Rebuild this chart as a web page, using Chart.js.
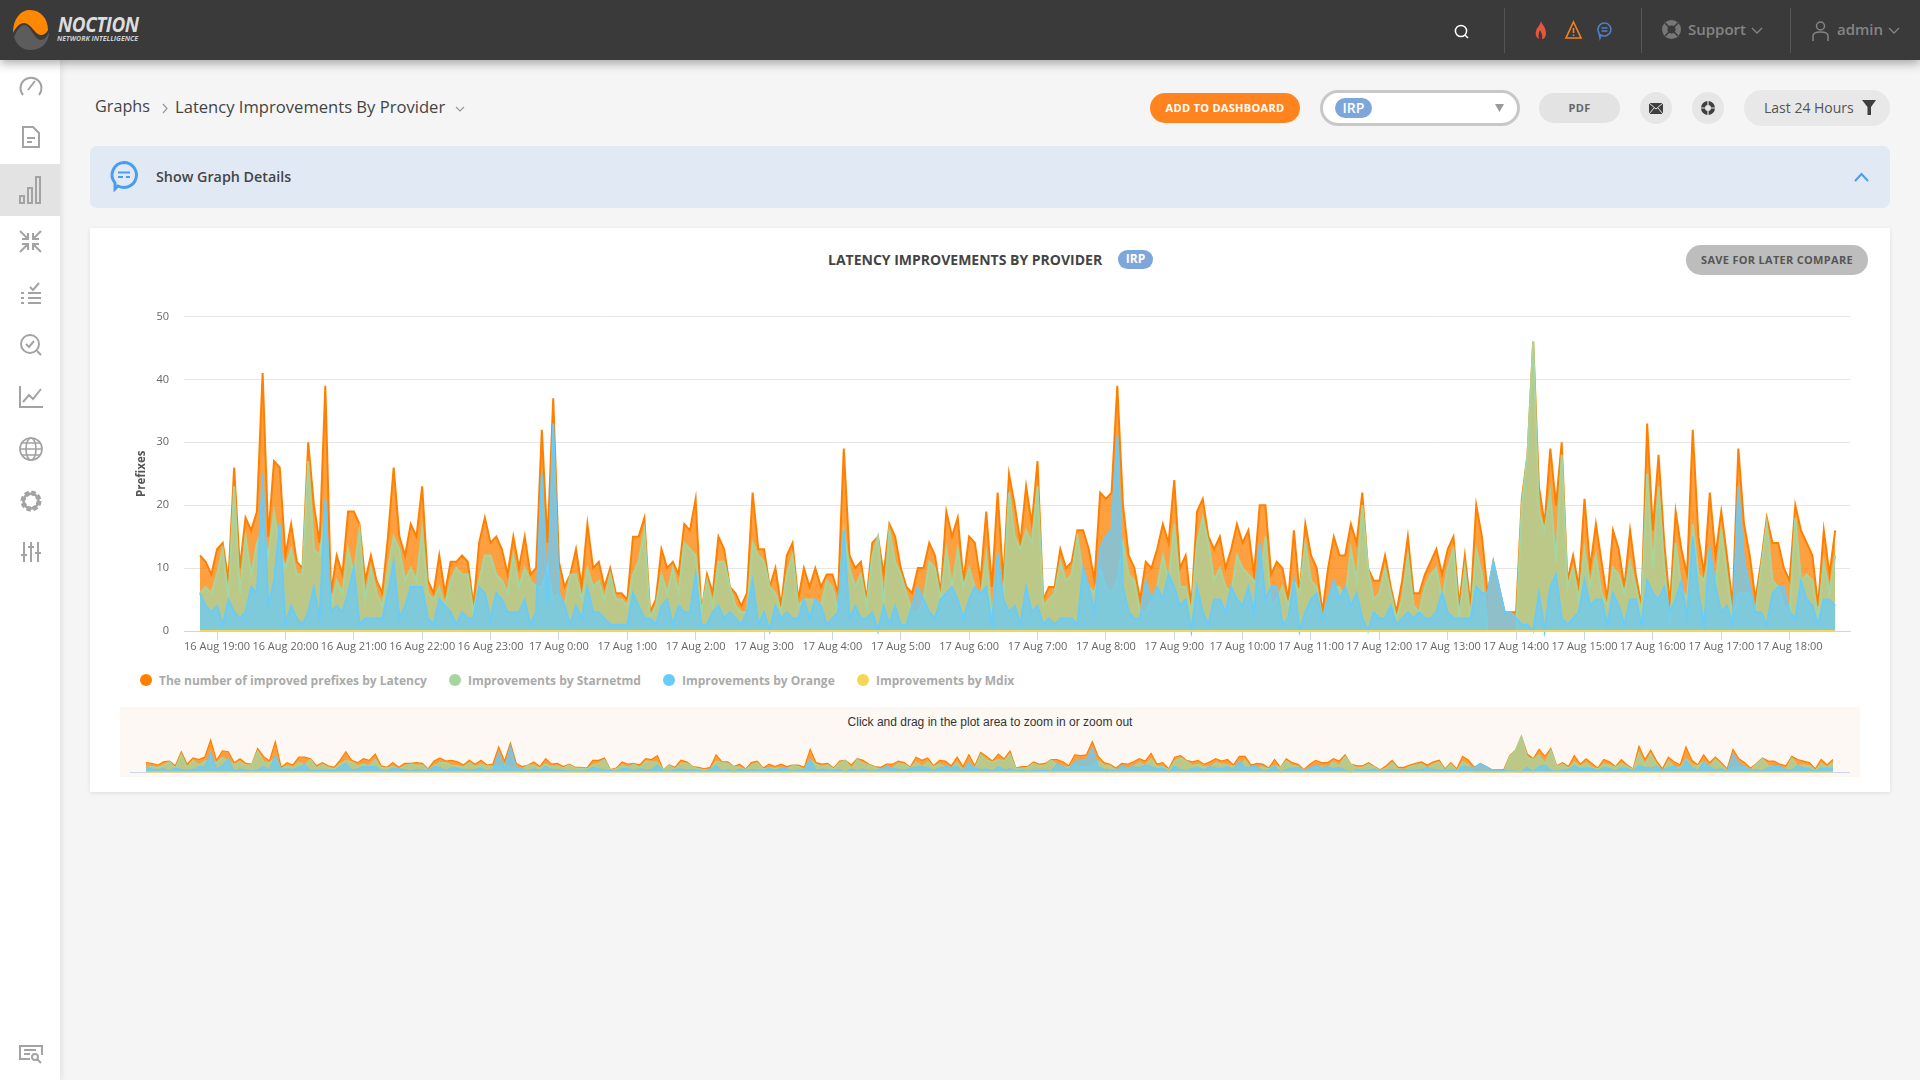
<!DOCTYPE html>
<html>
<head>
<meta charset="utf-8">
<title>Latency Improvements By Provider</title>
<script src="https://cdn.jsdelivr.net/npm/chart.js@4"></script>
<style>
  html, body { margin: 0; padding: 0; width: 1920px; height: 1080px; overflow: hidden; background: #f5f5f5; font-family: "Open Sans", sans-serif; color: #444; }
  .box { position: absolute; box-sizing: border-box; }
  .txt { position: absolute; white-space: nowrap; transform: translateY(-50%); }
  .pill { position: absolute; box-sizing: border-box; display: flex; align-items: center; justify-content: center; white-space: nowrap; padding-bottom: 2px; }
  svg { position: absolute; overflow: visible; fill: none; }
  #topbar { left: 0; top: 0; width: 1920px; height: 60px; background: #3a3a3a; box-shadow: 0 3px 10px rgba(0,0,0,.35); z-index: 3; }
  #sidebar { left: 0; top: 60px; width: 60px; height: 1020px; background: #fff; box-shadow: 2px 0 6px rgba(0,0,0,.08); z-index: 2; }
  .sep { position: absolute; top: 8px; width: 1px; height: 45px; background: #555; }
  .top-txt { font-size: 15px; font-weight: 600; color: #858585; }
  .leg-dot { position: absolute; width: 12px; height: 12px; border-radius: 50%; top: 674px; }
  .leg-txt { position: absolute; top: 680px; transform: translateY(-50%); font-size: 12px; font-weight: 700; color: #aaa; white-space: nowrap; }
</style>
</head>
<body>

<div class="box" id="topbar">
  <svg style="left:13px;top:10px" width="38" height="40" viewBox="0 0 38 40">
    <path d="M0 23 C0 8 8 0 17 0 C28 0 35 9 35 20 C33 24 30 25 28 25 C22 25 18 13 11 13 C7 13 3 17 0 23Z" fill="#ff8800"/>
    <path d="M1 27 C3 22 7 15 11 15 C18 15 21 30 28 30 C31 30 34 27 36 22 C36 33 28 40 17 40 C9 40 3 34 1 27Z" fill="#5c5c5c"/>
  </svg>
  <div class="txt" style="left:58px;top:24px;font-size:21px;font-weight:700;font-style:italic;color:#ddd;letter-spacing:-.5px;transform:translateY(-50%) scaleX(.9);transform-origin:left">NOCTION</div>
  <div class="txt" style="left:57px;top:38px;font-size:7px;font-weight:700;font-style:italic;color:#ccc">NETWORK INTELLIGENCE</div>

  <svg style="left:1454px;top:24px" width="15" height="15" stroke="#fff" stroke-width="1.5"><circle cx="7" cy="7" r="5.6"/><path d="M11 11 L14 14"/></svg>
  <div class="sep" style="left:1504px"></div>
  <svg style="left:1535px;top:21px" width="12" height="18"><path d="M6 0 C7 4 11 6 11 12 C11 16 9 18 7 18 C8 14 6 11 5 9 C4 12 3 14 4 18 C2 17 0 15 1 10 C2 6 5 5 6 0Z" fill="#e5563c"/></svg>
  <svg style="left:1565px;top:21px" width="17" height="18" stroke="#f58220" stroke-width="1.6"><path d="M8.5 1 L16 17 L1 17Z"/><path d="M8.5 7 L8.5 12 M8.5 13.5 L8.5 15"/></svg>
  <svg style="left:1597px;top:22px" width="15" height="17" stroke="#4f81c7" stroke-width="1.6"><path d="M7.5 1 A6.5 6.5 0 1 1 4 13 L3 16 L2 11 A6.5 6.5 0 0 1 7.5 1Z"/><path d="M4.5 6 H10.5 M4.5 9 H10.5"/></svg>
  <div class="sep" style="left:1641px"></div>
  <svg style="left:1662px;top:20px" width="19" height="19"><circle cx="9.5" cy="9.5" r="9.5" fill="#777"/><circle cx="9.5" cy="9.5" r="4" fill="#3a3a3a"/><path d="M3 3 L7 7 M16 3 L12 7 M3 16 L7 12 M16 16 L12 12" stroke="#3a3a3a" stroke-width="1.6"/></svg>
  <div class="txt top-txt" style="left:1688px;top:29px">Support</div>
  <svg style="left:1751px;top:27px" width="12" height="7" stroke="#858585" stroke-width="1.3"><path d="M1 1 L6 6 L11 1"/></svg>
  <div class="sep" style="left:1790px"></div>
  <svg style="left:1812px;top:21px" width="17" height="20" stroke="#858585" stroke-width="1.5"><circle cx="8.5" cy="5" r="4"/><path d="M1 20 V15 C1 12 4 11 8.5 11 C13 11 16 12 16 15 V20"/></svg>
  <div class="txt top-txt" style="left:1837px;top:29px">admin</div>
  <svg style="left:1888px;top:27px" width="12" height="7" stroke="#858585" stroke-width="1.3"><path d="M1 1 L6 6 L11 1"/></svg>
</div>

<div class="box" id="sidebar">
  <div class="box" style="left:0;top:104px;width:60px;height:52px;background:#e3e3e3"></div>
  <svg style="left:19px;top:15px" width="24" height="22" stroke="#a3a3a3" stroke-width="2"><path d="M4 20 A10.5 10.5 0 1 1 20 20"/><path d="M9 15 L16 6"/></svg>
  <svg style="left:22px;top:66px" width="18" height="22" stroke="#a3a3a3" stroke-width="2"><path d="M1 1 H11 L17 7 V21 H1Z M5 12 H13 M5 16 H10"/></svg>
  <svg style="left:19px;top:116px" width="23" height="28" stroke="#a3a3a3" stroke-width="2"><rect x="1" y="20" width="4" height="7"/><rect x="9" y="12" width="4" height="15"/><rect x="17" y="1" width="4" height="26"/></svg>
  <svg style="left:19px;top:170px" width="23" height="23" stroke="#a3a3a3" stroke-width="2"><path d="M1 1 L9 9 M9 3 V9 H3 M22 1 L14 9 M14 3 V9 H20 M1 22 L9 14 M9 20 V14 H3 M22 22 L14 14 M14 20 V14 H20"/></svg>
  <svg style="left:20px;top:222px" width="22" height="22" stroke="#a3a3a3" stroke-width="2"><path d="M10 5 L13 8 L19 1 M8 11 H21 M8 16 H21 M8 21 H21 M1 11 H4 M1 16 H4 M1 21 H4"/></svg>
  <svg style="left:19px;top:273px" width="23" height="23" stroke="#a3a3a3" stroke-width="2"><circle cx="11" cy="11" r="9"/><path d="M7 11 L10 14 L15 8 M18 18 L22 22"/></svg>
  <svg style="left:19px;top:325px" width="24" height="23" stroke="#a3a3a3" stroke-width="2"><path d="M1 1 V22 H24 M4 17 L10 10 L14 14 L22 4"/></svg>
  <svg style="left:19px;top:377px" width="24" height="24" stroke="#a3a3a3" stroke-width="1.7"><circle cx="12" cy="12" r="11"/><ellipse cx="12" cy="12" rx="5" ry="11"/><path d="M1 12 H23 M3 6 H21 M3 18 H21"/></svg>
  <svg style="left:19px;top:429px" width="24" height="24"><circle cx="12" cy="12" r="8" stroke="#a3a3a3" stroke-width="5" stroke-dasharray="4 2.3"/><circle cx="12" cy="12" r="7.5" stroke="#a3a3a3" stroke-width="2.5"/></svg>
  <svg style="left:20px;top:481px" width="22" height="22" stroke="#a3a3a3" stroke-width="2"><path d="M4 1 V21 M11 1 V21 M18 1 V21 M1 14 H7 M8 6 H14 M15 12 H21"/></svg>
  <svg style="left:19px;top:985px" width="24" height="19" stroke="#a3a3a3" stroke-width="2"><path d="M23 10 V1 H1 V14 H11 M5 5 H17 M5 9 H11"/><circle cx="16" cy="12" r="3"/><path d="M18 14 L22 18"/></svg>
</div>

<div class="txt" style="left:95px;top:106px;font-size:16.2px;font-weight:500">Graphs</div>
<svg style="left:162px;top:103px" width="6" height="10" stroke="#999" stroke-width="1.2"><path d="M1 1 L5 5.5 L1 10"/></svg>
<div class="txt" style="left:175px;top:106px;font-size:16.6px;font-weight:500">Latency Improvements By Provider</div>
<svg style="left:455px;top:106px" width="10" height="6" stroke="#999" stroke-width="1.2"><path d="M1 1 L5 5 L9 1"/></svg>

<div class="pill" style="left:1150px;top:93px;width:150px;height:30px;background:#ff8420;border-radius:15px;color:#fff;font-size:11px;font-weight:700;letter-spacing:.3px">ADD TO DASHBOARD</div>
<div class="box" style="left:1320px;top:90px;width:200px;height:36px;background:#fff;border:3px solid #c8c8c8;border-radius:18px"></div>
<div class="pill" style="left:1335px;top:98px;width:37px;height:20px;background:#7da7db;border-radius:10px;color:#fff;font-size:14px;font-weight:600">IRP</div>
<svg style="left:1495px;top:104px" width="9" height="8"><path d="M0 0 H9 L4.5 8Z" fill="#999"/></svg>
<div class="pill" style="left:1539px;top:93px;width:81px;height:30px;background:#e3e3e3;border-radius:15px;color:#666;font-size:11px;font-weight:700;letter-spacing:.3px">PDF</div>
<div class="box" style="left:1640px;top:92px;width:32px;height:32px;background:#e6e6e6;border-radius:50%"></div>
<svg style="left:1649px;top:103px" width="14" height="11"><rect width="14" height="11" fill="#3f3f3f"/><path d="M0 0 L7 6 L14 0 M0 11 L5 5 M14 11 L9 5" stroke="#e6e6e6" stroke-width="1"/></svg>
<div class="box" style="left:1692px;top:92px;width:32px;height:32px;background:#e6e6e6;border-radius:50%"></div>
<svg style="left:1701px;top:101px" width="14" height="14"><circle cx="7" cy="7" r="5" stroke="#3f3f3f" stroke-width="4"/><path d="M7 0 V14 M0 7 H14" stroke="#e6e6e6" stroke-width="1.2"/></svg>
<div class="box" style="left:1744px;top:90px;width:146px;height:36px;background:#e8e8e8;border-radius:18px"></div>
<div class="txt" style="left:1764px;top:107px;font-size:14px;color:#555">Last 24 Hours</div>
<svg style="left:1862px;top:100px" width="14" height="15"><path d="M0 0 H14 L9 7 V15 L5.5 15 V7Z" fill="#3f3f3f"/></svg>

<div class="box" style="left:90px;top:146px;width:1800px;height:62px;background:#e1eaf4;border-radius:7px"></div>
<svg style="left:110px;top:161px" width="28" height="30" stroke="#4a9cf0" stroke-width="3"><path d="M14 1.5 A12.5 12.5 0 1 1 8 25 L5 28 L5 22 A12.5 12.5 0 0 1 14 1.5Z"/><path d="M8 11.5 H20 M8 16 H13 M16 16 H20" stroke-width="2"/></svg>
<div class="txt" style="left:156px;top:176px;font-size:14.3px;font-weight:600;color:#444">Show Graph Details</div>
<svg style="left:1854px;top:172px" width="15" height="10" stroke="#4a9cf0" stroke-width="2"><path d="M1 9 L7.5 2 L14 9"/></svg>

<div class="box" style="left:90px;top:228px;width:1800px;height:564px;background:#fff;box-shadow:0 1px 4px rgba(0,0,0,.1)"></div>
<div class="txt" style="left:828px;top:259px;font-size:14px;font-weight:700;color:#444">LATENCY IMPROVEMENTS BY PROVIDER</div>
<div class="pill" style="left:1118px;top:250px;width:35px;height:19px;background:#7da7db;border-radius:10px;color:#fff;font-size:12px;font-weight:700">IRP</div>
<div class="pill" style="left:1686px;top:245px;width:182px;height:30px;background:#bdbdbd;border-radius:15px;color:#555;font-size:11px;font-weight:700;letter-spacing:.3px">SAVE FOR LATER COMPARE</div>

<div class="box" style="left:120px;top:300px;width:1750px;height:370px"><canvas id="graficoPrincipal"></canvas></div>
<div id="legenda"></div>

<div class="box" style="left:120px;top:707px;width:1740px;height:70px;background:#fef8f4"></div>
<div class="txt" style="left:990px;top:722px;transform:translate(-50%,-50%);font-family:'Liberation Sans',sans-serif;font-size:12px;color:#333">Click and drag in the plot area to zoom in or zoom out</div>
<div class="box" style="left:130px;top:730px;width:1720px;height:44px"><canvas id="graficoNavegador"></canvas></div>

<script>
// 288 samples, one every 5 minutes, starting 16 Aug 18:45
const latencia = [
  12,11,9,13,14,8,26,10,18,16,19,41, 15,27,26,12,17,11,10,30,20,14,39,6,
  12,9,19,19,17,8,12,8,6,15,26,15, 12,17,15,23,8,6,12,6,11,11,12,11,
  4,14,18,14,15,13,9,15,10,15,9,10, 32,14,37,11,7,9,13,7,17,10,11,7,
  10,6,6,5,15,15,18,3,5,13,10,11, 9,17,16,21,3,9,6,15,13,7,6,4,
  6,22,13,13,7,10,4,12,14,5,10,7, 10,7,9,9,6,29,12,10,11,5,14,15,
  9,17,15,10,7,6,10,10,14,12,6,19, 15,18,8,15,14,8,19,7,22,8,25,20,
  14,23,17,27,5,7,7,13,10,11,16,16, 13,8,22,21,22,39,20,12,10,5,11,10,
  13,17,14,24,10,12,4,19,21,15,13,15, 10,13,17,14,16,9,20,20,9,11,10,5,
  16,6,17,12,10,3,10,15,12,12,17,14, 22,10,8,8,12,7,3,8,15,6,6,9,
  11,13,9,13,15,4,12,4,20,15,6,11, 7,3,3,3,21,28,46,23,17,29,20,30,
  8,12,7,21,10,17,11,5,16,13,7,16, 9,4,33,16,28,14,4,19,13,9,32,15,
  9,22,12,19,12,4,29,17,12,5,11,18, 14,14,10,8,20,16,14,12,4,16,9,16
];
const starnetmd = [
  6,7,6,9,13,5,23,6,15,9,14,16, 12,19,13,10,13,9,9,27,13,12,19,4,
  8,6,13,9,16,5,10,6,4,10,15,13, 8,10,8,16,6,5,7,4,8,10,9,9,
  3,8,12,12,9,8,6,12,7,10,8,7, 7,10,5,6,4,9,9,5,10,7,8,5,
  9,5,5,4,9,11,16,2,4,9,6,10, 6,14,13,12,3,8,4,11,11,7,4,3,
  3,14,12,11,7,6,3,9,12,4,5,5, 5,4,8,7,3,16,10,7,9,4,12,15,
  4,16,11,9,6,3,3,5,11,10,5,13, 7,13,7,10,7,5,12,2,12,5,22,15,
  13,16,14,23,4,5,6,11,8,9,15,9, 7,6,10,7,6,8,14,9,8,3,3,5,
  7,12,8,17,7,7,3,14,18,14,8,10, 7,6,12,10,9,8,7,15,4,5,7,4,
  8,6,14,8,7,2,5,7,7,5,13,8, 20,10,5,6,10,6,2,5,12,4,3,7,
  9,10,5,10,13,2,10,2,13,9,0,0, 0,0,0,0,20,28,46,19,16,22,11,28,
  7,10,5,13,7,12,6,4,10,9,6,11, 7,3,25,10,23,10,1,14,7,5,17,9,
  8,13,7,16,9,2,6,6,6,3,10,17, 8,7,4,3,18,8,9,8,2,11,6,12
];
const orange = [
  6,4,3,4,1,5,3,2,3,7,6,25, 4,8,17,1,4,2,1,3,7,2,21,3,
  4,3,6,10,1,2,2,2,2,6,11,2, 4,7,7,7,2,1,5,4,3,1,3,2,
  2,7,6,2,6,5,3,3,3,5,1,3, 25,4,33,6,4,1,4,2,7,3,3,2,
  1,1,1,1,6,4,2,2,1,4,5,1, 4,3,3,9,1,1,3,4,2,3,2,1,
  3,8,1,3,0,4,2,3,2,2,5,2, 5,4,1,2,3,16,2,4,2,2,3,0,
  4,1,4,1,1,4,7,5,3,2,5,6, 7,5,2,5,7,6,7,1,12,5,3,4,
  1,7,3,4,1,2,1,2,2,2,1,10, 7,3,13,15,16,31,7,3,2,2,8,5,
  7,5,9,7,4,5,0,7,3,1,5,5, 3,7,5,4,7,3,14,5,7,7,1,2,
  8,0,3,5,6,2,5,8,5,7,4,6, 2,0,3,2,2,4,1,2,3,2,3,2,
  2,3,6,3,2,2,2,2,7,6,6,11, 7,3,3,2,1,1,0,6,0,7,9,2,
  1,2,3,8,4,5,5,1,6,4,1,5, 5,1,8,6,5,7,3,5,8,2,15,6,
  1,13,7,3,4,1,23,11,7,3,3,1, 6,7,7,3,2,8,5,4,1,5,5,4
];
const mdix = [
  0,0,0,0,0,0,0,0,0,0,0,0, 0,0,0,0,0,0,0,0,0,0,0,0,
  0,0,0,0,0,0,0,0,0,0,0,0, 0,0,0,0,0,0,0,0,0,0,0,0,
  0,0,0,0,0,0,0,0,0,0,0,0, 0,0,0,0,0,0,0,0,0,0,0,0,
  0,0,0,0,0,0,0,0,0,0,0,0, 0,0,0,0,0,0,0,0,0,0,0,0,
  0,0,0,0,0,0,0,0,0,0,0,0, 0,0,0,0,0,0,0,0,0,0,0,0,
  0,0,0,0,0,0,0,0,0,0,0,0, 0,0,0,0,0,0,0,0,0,0,0,0,
  0,0,0,0,0,0,0,0,0,0,0,0, 0,0,0,0,0,0,0,0,0,0,0,0,
  0,0,0,0,0,0,0,0,0,0,0,0, 0,0,0,0,0,0,0,0,0,0,0,0,
  0,0,0,0,0,0,0,0,0,0,0,0, 0,0,0,0,0,0,0,0,0,0,0,0,
  0,0,0,0,0,0,0,0,0,0,0,0, 0,0,0,0,0,0,0,0,0,0,0,0,
  0,0,0,0,0,0,0,0,0,0,0,0, 0,0,0,0,0,0,0,0,0,0,0,0,
  0,0,0,0,0,0,0,0,0,0,0,0, 0,0,0,0,0,0,0,0,0,0,0,0
];
const nomesSeries = [
  'The number of improved prefixes by Latency',
  'Improvements by Starnetmd',
  'Improvements by Orange',
  'Improvements by Mdix'
];
const rotulosHora = [
  '16 Aug 19:00','16 Aug 20:00','16 Aug 21:00','16 Aug 22:00','16 Aug 23:00',
  '17 Aug 0:00','17 Aug 1:00','17 Aug 2:00','17 Aug 3:00','17 Aug 4:00','17 Aug 5:00',
  '17 Aug 6:00','17 Aug 7:00','17 Aug 8:00','17 Aug 9:00','17 Aug 10:00','17 Aug 11:00',
  '17 Aug 12:00','17 Aug 13:00','17 Aug 14:00','17 Aug 15:00','17 Aug 16:00','17 Aug 17:00','17 Aug 18:00'
];
const valoresY = [0, 10, 20, 30, 40, 50];

const seriesDados = [latencia, starnetmd, orange, mdix];
const coresLinha = ['#ff8000', '#a6d69f', '#69cbf7', '#f5d657'];
const coresArea = ['rgba(255,128,0,.75)', 'rgba(166,214,159,.75)', 'rgba(105,203,247,.75)', 'rgba(245,214,87,.75)'];

// Series are painted back to front: orange area first, the others on top
function montarDatasets(espessura) {
    return seriesDados.map((valores, i) => ({
        label: nomesSeries[i],
        data: valores.map((v, x) => ({ x: x, y: v })),
        borderColor: coresLinha[i],
        backgroundColor: coresArea[i],
        borderWidth: espessura,
        fill: 'origin',
        tension: 0,
        pointRadius: 0,
        order: seriesDados.length - i,
        clip: 6
    }));
}

// The first sample is at 18:45, so each full hour falls at index 3, 15, 27...
const inicioHora = 3;
const passoHora = 12;

new Chart(document.getElementById('graficoPrincipal'), {
    type: 'line',
    data: { datasets: montarDatasets(2) },
    options: {
        responsive: true,
        maintainAspectRatio: false,
        animation: false,
        layout: { padding: { top: 16.5, right: 20, left: 0, bottom: 0 } },
        plugins: { legend: { display: false }, tooltip: { enabled: false } },
        scales: {
            x: {
                type: 'linear',
                min: -2.8,
                max: 289.6,
                afterFit: s => { s.height = 39; },
                afterBuildTicks: s => { s.ticks = rotulosHora.map((_, i) => ({ value: inicioHora + i * passoHora })); },
                border: { color: '#ccd6eb', width: 1 },
                grid: { drawOnChartArea: false, tickLength: 9, tickColor: '#ccd6eb', tickWidth: 1 },
                ticks: {
                    autoSkip: false,
                    maxRotation: 0,
                    padding: 0,
                    color: '#666',
                    font: { family: 'Open Sans', size: 11 },
                    callback: v => rotulosHora[(v - inicioHora) / passoHora]
                }
            },
            y: {
                min: 0,
                max: 50,
                // tick padding would otherwise push the plot top down
                afterFit: s => { s.width = 64; s.paddingTop = 0; s.paddingBottom = 0; },
                afterBuildTicks: s => { s.ticks = valoresY.map(v => ({ value: v })); },
                border: { display: false },
                grid: { color: '#e6e6e6', drawTicks: false },
                title: {
                    display: true,
                    text: 'Prefixes',
                    color: '#555',
                    padding: { top: 15, bottom: 0 },
                    font: { family: 'Open Sans', size: 11.5, weight: 'bold' }
                },
                ticks: { padding: 15, color: '#666', font: { family: 'Open Sans', size: 11 } }
            }
        }
    }
});

// Small overview under the chart, same series
new Chart(document.getElementById('graficoNavegador'), {
    type: 'line',
    data: { datasets: montarDatasets(1.2) },
    options: {
        responsive: true,
        maintainAspectRatio: false,
        animation: false,
        layout: { padding: { top: 3, bottom: 2 } },
        plugins: { legend: { display: false }, tooltip: { enabled: false } },
        scales: {
            x: {
                type: 'linear',
                min: -2.72,
                max: 289.9,
                afterFit: s => { s.height = 0; },
                border: { color: '#ccd6eb', width: 1 },
                grid: { drawOnChartArea: false, drawTicks: false },
                ticks: { display: false }
            },
            y: { display: false, min: 0, max: 50 }
        }
    }
});

// Legend
const posicaoPonto = [140, 449, 663, 857];
const posicaoTexto = [159, 468, 682, 876];
const legenda = document.getElementById('legenda');
nomesSeries.forEach((nome, i) => {
    legenda.innerHTML += `
        <div class="leg-dot" style="left:${posicaoPonto[i]}px;background:${coresLinha[i]}"></div>
        <div class="leg-txt" style="left:${posicaoTexto[i]}px">${nome}</div>`;
});
</script>
</body>
</html>
